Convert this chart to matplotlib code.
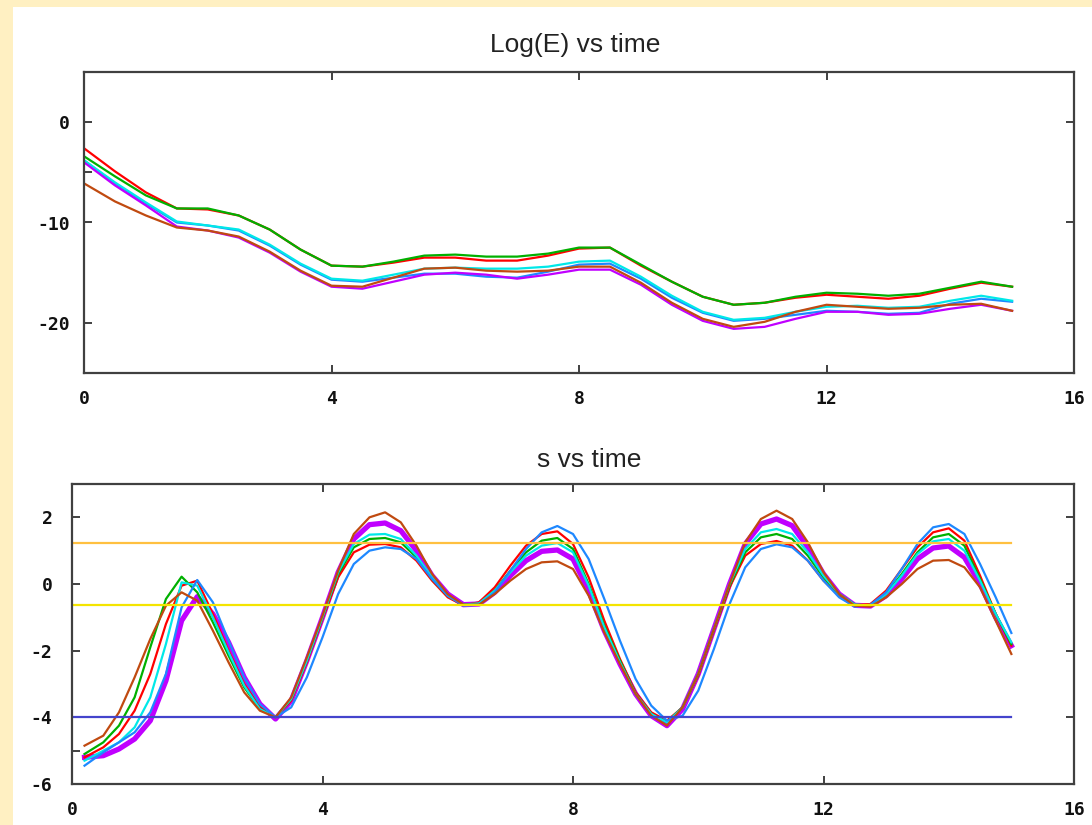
import numpy as np
import matplotlib
matplotlib.use("Agg")
import matplotlib.pyplot as plt
from matplotlib.patches import Rectangle

# ---- data ----
t_top = np.arange(0, 15.01, 0.5)

logE_red = [-2.6, -4.9, -7.0, -8.6, -8.7, -9.3, -10.7, -12.7, -14.3, -14.4,
            -14.0, -13.5, -13.5, -13.8, -13.8, -13.3, -12.6, -12.5, -14.3, -15.9,
            -17.4, -18.2, -18.0, -17.5, -17.2, -17.4, -17.6, -17.3, -16.6, -16.0, -16.4]
logE_green = [-3.4, -5.4, -7.3, -8.6, -8.6, -9.3, -10.7, -12.7, -14.3, -14.4,
              -13.9, -13.3, -13.2, -13.4, -13.4, -13.1, -12.5, -12.5, -14.2, -15.9,
              -17.4, -18.2, -18.0, -17.4, -17.0, -17.1, -17.3, -17.1, -16.5, -15.9, -16.4]
logE_cyan = [-3.8, -6.0, -8.0, -9.9, -10.3, -10.7, -12.2, -14.1, -15.6, -15.8,
             -15.2, -14.6, -14.5, -14.6, -14.6, -14.4, -13.9, -13.8, -15.4, -17.3,
             -18.9, -19.7, -19.5, -18.9, -18.4, -18.3, -18.5, -18.4, -17.8, -17.3, -17.8]
logE_blue = [-3.8, -6.1, -8.1, -10.0, -10.3, -10.8, -12.3, -14.2, -15.7, -15.9,
             -15.5, -15.1, -15.1, -15.4, -15.5, -14.9, -14.2, -14.1, -15.6, -17.5,
             -19.0, -19.8, -19.6, -19.2, -18.8, -18.9, -19.1, -19.0, -18.1, -17.6, -17.9]
logE_magenta = [-4.0, -6.3, -8.3, -10.4, -10.8, -11.5, -13.0, -14.9, -16.4, -16.6,
                -15.9, -15.2, -15.0, -15.2, -15.6, -15.2, -14.7, -14.7, -16.2, -18.2,
                -19.8, -20.6, -20.4, -19.6, -18.9, -18.9, -19.2, -19.1, -18.6, -18.2, -18.8]
logE_brown = [-6.1, -7.9, -9.3, -10.5, -10.8, -11.4, -12.9, -14.8, -16.3, -16.4,
              -15.5, -14.6, -14.5, -14.8, -14.9, -14.8, -14.4, -14.4, -16.0, -18.0,
              -19.6, -20.4, -19.9, -18.9, -18.2, -18.4, -18.6, -18.5, -18.2, -18.1, -18.8]

t_bot = np.r_[0.2, np.arange(0.5, 15.01, 0.25)]

s_red = [-5.2, -4.9, -4.5, -3.8, -2.7, -1.2, -0.05, 0.1, -0.9, -2.0,
         -3.0, -3.7, -4.0, -3.5, -2.35, -1.05, 0.2, 0.95, 1.18, 1.2,
         1.1, 0.7, 0.1, -0.4, -0.64, -0.55, -0.1, 0.55, 1.15, 1.5,
         1.58, 1.2, 0.2, -1.1, -2.25, -3.25, -3.85, -4.1, -3.7, -2.75,
         -1.4, -0.1, 0.85, 1.2, 1.29, 1.15, 0.7, 0.1, -0.35, -0.64,
         -0.6, -0.2, 0.45, 1.1, 1.55, 1.67, 1.3, 0.25, -0.9, -1.85]
s_green = [-5.1, -4.75, -4.25, -3.4, -1.9, -0.45, 0.22, -0.25, -1.15, -2.15,
           -3.1, -3.75, -4.0, -3.45, -2.3, -1.0, 0.3, 1.1, 1.35, 1.38,
           1.25, 0.8, 0.15, -0.35, -0.62, -0.6, -0.2, 0.4, 0.95, 1.3,
           1.38, 1.05, 0.0, -1.25, -2.3, -3.3, -3.9, -4.15, -3.7, -2.7,
           -1.35, -0.05, 0.95, 1.4, 1.5, 1.35, 0.85, 0.2, -0.3, -0.62,
           -0.65, -0.3, 0.3, 0.95, 1.4, 1.5, 1.15, 0.15, -0.9, -1.8]
s_cyan = [-5.3, -5.0, -4.75, -4.3, -3.4, -1.8, 0.05, -0.05, -1.0, -2.05,
          -3.05, -3.75, -4.0, -3.45, -2.3, -1.0, 0.35, 1.2, 1.48, 1.5,
          1.35, 0.85, 0.2, -0.35, -0.62, -0.58, -0.2, 0.35, 0.85, 1.15,
          1.23, 0.95, -0.05, -1.3, -2.35, -3.3, -3.9, -4.15, -3.7, -2.7,
          -1.35, 0.0, 1.05, 1.55, 1.65, 1.5, 0.95, 0.25, -0.3, -0.62,
          -0.65, -0.3, 0.25, 0.9, 1.28, 1.35, 1.0, 0.1, -0.9, -1.75]
s_blue = [-5.45, -5.05, -4.75, -4.45, -3.85, -2.7, -0.7, 0.12, -0.55, -1.7,
          -2.8, -3.6, -4.0, -3.7, -2.8, -1.6, -0.3, 0.6, 1.0, 1.1,
          1.05, 0.75, 0.15, -0.35, -0.65, -0.62, -0.25, 0.4, 1.05, 1.55,
          1.74, 1.5, 0.75, -0.45, -1.7, -2.85, -3.65, -4.1, -3.95, -3.2,
          -1.95, -0.6, 0.5, 1.05, 1.19, 1.1, 0.7, 0.1, -0.4, -0.68,
          -0.62, -0.25, 0.45, 1.2, 1.7, 1.8, 1.5, 0.6, -0.4, -1.47]
s_magenta = [-5.2, -5.15, -4.95, -4.65, -4.1, -2.9, -1.1, -0.38, -0.9, -1.75,
             -2.8, -3.6, -4.05, -3.5, -2.3, -1.0, 0.35, 1.35, 1.78, 1.83,
             1.6, 1.0, 0.25, -0.3, -0.62, -0.6, -0.25, 0.25, 0.7, 0.98,
             1.02, 0.75, -0.2, -1.4, -2.4, -3.3, -3.95, -4.25, -3.75, -2.7,
             -1.35, 0.0, 1.2, 1.8, 1.95, 1.75, 1.1, 0.3, -0.3, -0.64,
             -0.66, -0.35, 0.15, 0.75, 1.08, 1.14, 0.8, 0.0, -1.0, -1.85]
s_brown = [-4.85, -4.55, -3.85, -2.8, -1.65, -0.65, -0.25, -0.5, -1.4, -2.35,
           -3.25, -3.8, -4.0, -3.4, -2.2, -0.95, 0.4, 1.5, 2.0, 2.15,
           1.85, 1.15, 0.3, -0.3, -0.62, -0.62, -0.3, 0.1, 0.45, 0.65,
           0.68, 0.45, -0.35, -1.45, -2.4, -3.3, -3.95, -4.25, -3.7, -2.7,
           -1.35, 0.0, 1.25, 1.95, 2.2, 1.95, 1.25, 0.35, -0.3, -0.65,
           -0.68, -0.4, 0.0, 0.45, 0.7, 0.72, 0.5, -0.1, -1.1, -2.1]

# reference levels in the s plot
levels = [1.22, -0.62, -4.0]
level_colors = ["#ffc040", "#f4e400", "#4444cc"]
t_level = [0, 15]

RED, GREEN, CYAN = "#ff0000", "#00b000", "#00e8e8"
BLUE, MAGENTA, BROWN = "#1e88ff", "#c000ff", "#c04a10"

# ---- figure ----
fig = plt.figure(figsize=(10.92, 8.25), dpi=100, facecolor="#fff0c2")
fig.patches.append(Rectangle((13 / 1092, 0), 1, 1 - 7 / 825, transform=fig.transFigure,
                             facecolor="white", edgecolor="none", zorder=-1))

ax1 = fig.add_axes([84 / 1092, 1 - 373 / 825, 990 / 1092, 301 / 825])
ax2 = fig.add_axes([72 / 1092, 1 - 784 / 825, 1002 / 1092, 300 / 825])

lw = 1.6
for vals, c in [(logE_red, RED), (logE_green, GREEN), (logE_blue, BLUE),
                (logE_cyan, CYAN), (logE_magenta, MAGENTA), (logE_brown, BROWN)]:
    ax1.plot(t_top, vals, color=c, lw=lw)

ax2.plot(t_bot, s_magenta, color=MAGENTA, lw=3.8)
for vals, c in [(s_red, RED), (s_green, GREEN), (s_cyan, CYAN),
                (s_blue, BLUE), (s_brown, BROWN)]:
    ax2.plot(t_bot, vals, color=c, lw=lw)
for lev, c in zip(levels, level_colors):
    ax2.plot(t_level, [lev, lev], color=c, lw=1.6)

ax1.set_xlim(0, 16)
ax1.set_ylim(-25, 5)
ax1.set_xticks([0, 4, 8, 12, 16])
ax1.set_yticks([0, -10, -20])
ax1.set_yticks([-5], minor=True)

ax2.set_xlim(0, 16)
ax2.set_ylim(-6, 3)
ax2.set_xticks([0, 4, 8, 12, 16])
ax2.set_yticks([2, 0, -2, -4, -6])
ax2.set_yticks([-5], minor=True)

tick_font = {"family": "DejaVu Sans Mono", "weight": "bold", "size": 13}
for ax, ypad in [(ax1, 10), (ax2, 14)]:
    for sp in ax.spines.values():
        sp.set_color("#404040")
        sp.set_linewidth(1.6)
    ax.tick_params(axis="both", which="major", direction="in", length=6, width=1.4,
                   color="#404040", top=True, right=True)
    ax.tick_params(axis="y", which="minor", direction="in", length=6, width=1.4,
                   color="#404040", left=True, right=False)
    ax.tick_params(axis="x", pad=12)
    ax.tick_params(axis="y", pad=ypad)
    for lab in ax.get_xticklabels() + ax.get_yticklabels():
        lab.set_fontproperties(tick_font)
        lab.set_color("#111111")
    ax.set_yticklabels([str(v).replace("-", "-") for v in ax.get_yticks()])
    for lab in ax.get_yticklabels():
        lab.set_fontproperties(tick_font)

title_font = {"family": "Liberation Sans", "size": 19, "color": "#222222"}
fig.text(575 / 1092, 1 - 52 / 825, "Log(E) vs time", ha="center", va="baseline", **title_font)
fig.text(589 / 1092, 1 - 467 / 825, "s vs time", ha="center", va="baseline", **title_font)

fig.savefig("out.png", dpi=100, facecolor=fig.get_facecolor())
